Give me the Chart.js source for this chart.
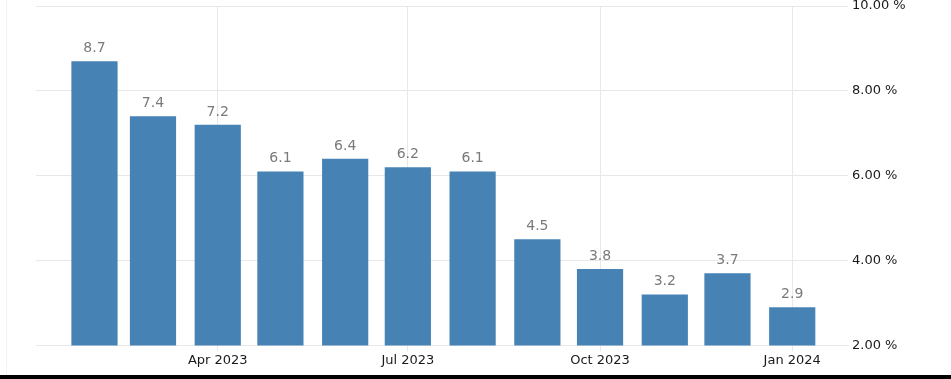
<!DOCTYPE html>
<html>
<head>
<meta charset="utf-8">
<script src="https://cdn.jsdelivr.net/npm/chart.js@4"></script>
<style>
  html, body { margin: 0; padding: 0; background: #fff; }
  #wrap { position: relative; width: 951px; height: 375px; border-bottom: 4px solid #000; }
  #edge { position: absolute; left: 6px; top: 0; width: 1px; height: 375px; background: #f3f3f3; }
</style>
</head>
<body>
<div id="wrap"><div id="edge"></div><canvas id="c" width="951" height="375"></canvas></div>
<script>
// Months (categories) and values
const months = ['2023-02','2023-03','2023-04','2023-05','2023-06','2023-07','2023-08','2023-09','2023-10','2023-11','2023-12','2024-01'];
const values = [8.7, 7.4, 7.2, 6.1, 6.4, 6.2, 6.1, 4.5, 3.8, 3.2, 3.7, 2.9];
// X-axis tick months and labels
const xTickMonths = ['2023-04','2023-07','2023-10','2024-01'];
const xTickLabels = ['Apr 2023','Jul 2023','Oct 2023','Jan 2024'];
// Y-axis ticks
const yTicks = [2, 4, 6, 8, 10];

const DAY = 86400000;
const toDay = s => Date.parse(s + '-01T00:00:00Z') / DAY;

const points = months.map((m, i) => ({ x: toDay(m), y: values[i] }));
const xTickDays = xTickMonths.map(toDay);

const valueLabels = {
  id: 'valueLabels',
  afterDatasetsDraw(chart) {
    const ctx = chart.ctx;
    const meta = chart.getDatasetMeta(0);
    ctx.save();
    ctx.font = '14px "DejaVu Sans"';
    ctx.fillStyle = '#7a7a7a';
    ctx.textAlign = 'center';
    ctx.textBaseline = 'alphabetic';
    meta.data.forEach((bar, i) => {
      ctx.fillText(values[i].toFixed(1), bar.x, bar.y - 9);
    });
    ctx.restore();
  }
};

new Chart(document.getElementById('c'), {
  type: 'bar',
  data: {
    datasets: [{
      data: points,
      backgroundColor: '#4682b4',
      borderWidth: 0,
      barPercentage: 0.79,
      categoryPercentage: 1.0
    }]
  },
  options: {
    responsive: false,
    animation: false,
    events: [],
    layout: { padding: { left: 36, top: 6, right: 0, bottom: 6 } },
    plugins: { legend: { display: false }, tooltip: { enabled: false } },
    scales: {
      x: {
        type: 'linear',
        offset: false,
        min: toDay(months[0]) - 28,
        max: toDay(xTickMonths[xTickMonths.length - 1]) + 26.7,
        afterBuildTicks(scale) {
          scale.ticks = xTickDays.map(v => ({ value: v }));
        },
        grid: { color: '#e8e8e8', lineWidth: 1, tickLength: 6, drawOnChartArea: true, offset: false },
        border: { color: '#e8e8e8' },
        ticks: {
          autoSkip: false,
          maxRotation: 0,
          padding: 1,
          color: '#1a1a1a',
          font: { family: 'DejaVu Sans', size: 13 },
          callback: (v) => {
            const i = xTickDays.indexOf(v);
            return i >= 0 ? xTickLabels[i] : '';
          }
        }
      },
      y: {
        position: 'right',
        min: 2,
        max: 10,
        afterBuildTicks(scale) {
          scale.ticks = yTicks.map(v => ({ value: v }));
        },
        afterFit(scale) { scale.width = 103; scale.paddingTop = 0; scale.paddingBottom = 0; },
        grid: { color: '#e8e8e8', drawTicks: false },
        border: { display: false },
        ticks: {
          padding: 4,
          color: '#1a1a1a',
          font: { family: 'DejaVu Sans', size: 13 },
          callback: v => v.toFixed(2) + ' %'
        }
      }
    }
  },
  plugins: [valueLabels]
});
</script>
</body>
</html>
